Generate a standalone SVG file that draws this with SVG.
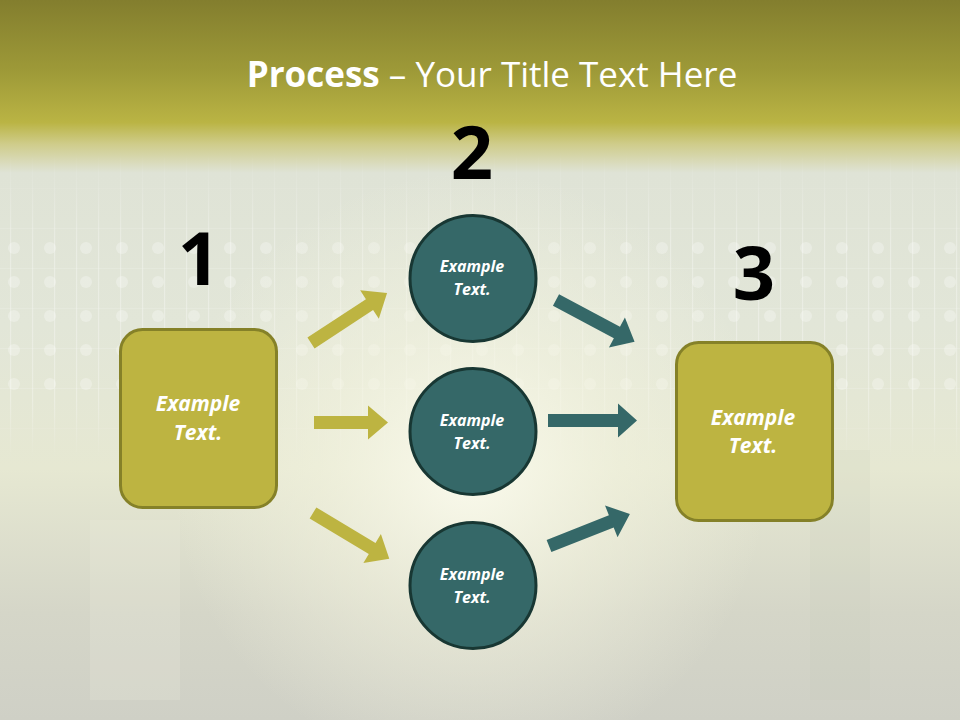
<svg xmlns="http://www.w3.org/2000/svg" width="960" height="720" viewBox="0 0 960 720">
<defs>
<linearGradient id="bg" x1="0" y1="0" x2="0" y2="1">
<stop offset="0" stop-color="#837e2e"/>
<stop offset="0.1" stop-color="#9e9a38"/>
<stop offset="0.17" stop-color="#bab444"/>
<stop offset="0.2" stop-color="#cfcc8a"/>
<stop offset="0.24" stop-color="#dfe3d6"/>
<stop offset="0.45" stop-color="#e2e6d8"/>
<stop offset="0.65" stop-color="#e6e8d2"/>
<stop offset="0.85" stop-color="#d5d6c8"/>
<stop offset="1" stop-color="#cfd0c6"/>
</linearGradient>
<radialGradient id="glow" cx="470" cy="470" r="300" gradientUnits="userSpaceOnUse">
<stop offset="0" stop-color="#fbfbee" stop-opacity="0.95"/>
<stop offset="0.5" stop-color="#f3f3df" stop-opacity="0.55"/>
<stop offset="1" stop-color="#f3f3df" stop-opacity="0"/>
</radialGradient>
<pattern id="dots" x="0" y="0" width="36" height="34" patternUnits="userSpaceOnUse">
<circle cx="14" cy="10" r="6" fill="#ffffff" opacity="0.4"/>
</pattern>
<pattern id="vlines" x="0" y="0" width="22" height="40" patternUnits="userSpaceOnUse">
<rect x="10" y="0" width="1.2" height="40" fill="#ffffff" opacity="0.5"/>
<rect x="0" y="28" width="22" height="1" fill="#ffffff" opacity="0.25"/>
</pattern>
<linearGradient id="fade" x1="0" y1="0" x2="0" y2="1">
<stop offset="0" stop-color="#fff" stop-opacity="0"/>
<stop offset="0.3" stop-color="#fff" stop-opacity="1"/>
<stop offset="0.8" stop-color="#fff" stop-opacity="1"/>
<stop offset="1" stop-color="#fff" stop-opacity="0"/>
</linearGradient>
<mask id="m1"><rect x="0" y="150" width="960" height="310" fill="url(#fade)"/></mask>
<style>
.box{fill:#bdb441;stroke:#858128;stroke-width:3}
.circ{fill:#356868;stroke:#183733;stroke-width:3}
.ga{fill:#bdb441}
.ta{fill:#356868}
.txt{font-family:"Open Sans","Liberation Sans",sans-serif;font-weight:bold;font-style:italic;fill:#ffffff;text-anchor:middle}
.num{font-family:"Open Sans","Liberation Sans",sans-serif;font-weight:bold;fill:#000000;text-anchor:middle;font-size:74px}
</style>
</defs>
<g id="background">
<rect width="960" height="720" fill="url(#bg)"/>
<g mask="url(#m1)">
<rect x="0" y="150" width="960" height="310" fill="url(#vlines)" opacity="0.6"/>
<rect x="0" y="235" width="960" height="170" fill="url(#dots)" opacity="0.7"/>
</g>
<rect x="90" y="520" width="90" height="180" fill="#f2f2e0" opacity="0.2"/>
<rect x="810" y="450" width="60" height="250" fill="#c4c6b8" opacity="0.15"/>
<rect width="960" height="720" fill="url(#glow)"/>
</g>
<g id="title">
<text x="492" y="87" font-family="'Open Sans','Liberation Sans',sans-serif" font-size="35" fill="#ffffff" text-anchor="middle"><tspan font-weight="bold">Process</tspan> – Your Title Text Here</text>
</g>
<g id="labels">
<text class="num" x="199" y="285">1</text>
<text class="num" x="472" y="179">2</text>
<text class="num" x="754" y="300">3</text>
</g>
<g id="connectors">
<path class="ga" transform="translate(311,343) rotate(-33.3)" d="M0,-6.5 H70 V-17 L91,0 L70,17 V6.5 H0 Z"/>
<path class="ga" transform="translate(314,422.5)" d="M0,-6.5 H54 V-17 L74,0 L54,17 V6.5 H0 Z"/>
<path class="ga" transform="translate(313,513) rotate(31)" d="M0,-6.5 H69 V-17 L89,0 L69,17 V6.5 H0 Z"/>
<path class="ta" transform="translate(556,300) rotate(28)" d="M0,-6.5 H69 V-17 L89,0 L69,17 V6.5 H0 Z"/>
<path class="ta" transform="translate(548,420.5)" d="M0,-6.5 H70 V-17 L89,0 L70,17 V6.5 H0 Z"/>
<path class="ta" transform="translate(549,546) rotate(-21.6)" d="M0,-6.5 H67 V-17 L87,0 L67,17 V6.5 H0 Z"/>
</g>
<g id="node-left">
<rect class="box" x="120.5" y="329.5" width="156" height="178" rx="22"/>
<text class="txt" x="198" y="411" font-size="21">Example</text>
<text class="txt" x="198" y="440" font-size="21">Text.</text>
</g>
<g id="node-top">
<circle class="circ" cx="473" cy="278.5" r="63"/>
<text class="txt" x="472" y="272" font-size="16">Example</text>
<text class="txt" x="472" y="295" font-size="16">Text.</text>
</g>
<g id="node-middle">
<circle class="circ" cx="473" cy="431.5" r="63"/>
<text class="txt" x="472" y="426" font-size="16">Example</text>
<text class="txt" x="472" y="449" font-size="16">Text.</text>
</g>
<g id="node-bottom">
<circle class="circ" cx="473" cy="585.5" r="63"/>
<text class="txt" x="472" y="580" font-size="16">Example</text>
<text class="txt" x="472" y="603" font-size="16">Text.</text>
</g>
<g id="node-right">
<rect class="box" x="676.5" y="342.5" width="156" height="178" rx="22"/>
<text class="txt" x="753" y="425" font-size="21">Example</text>
<text class="txt" x="753" y="453" font-size="21">Text.</text>
</g>
</svg>
